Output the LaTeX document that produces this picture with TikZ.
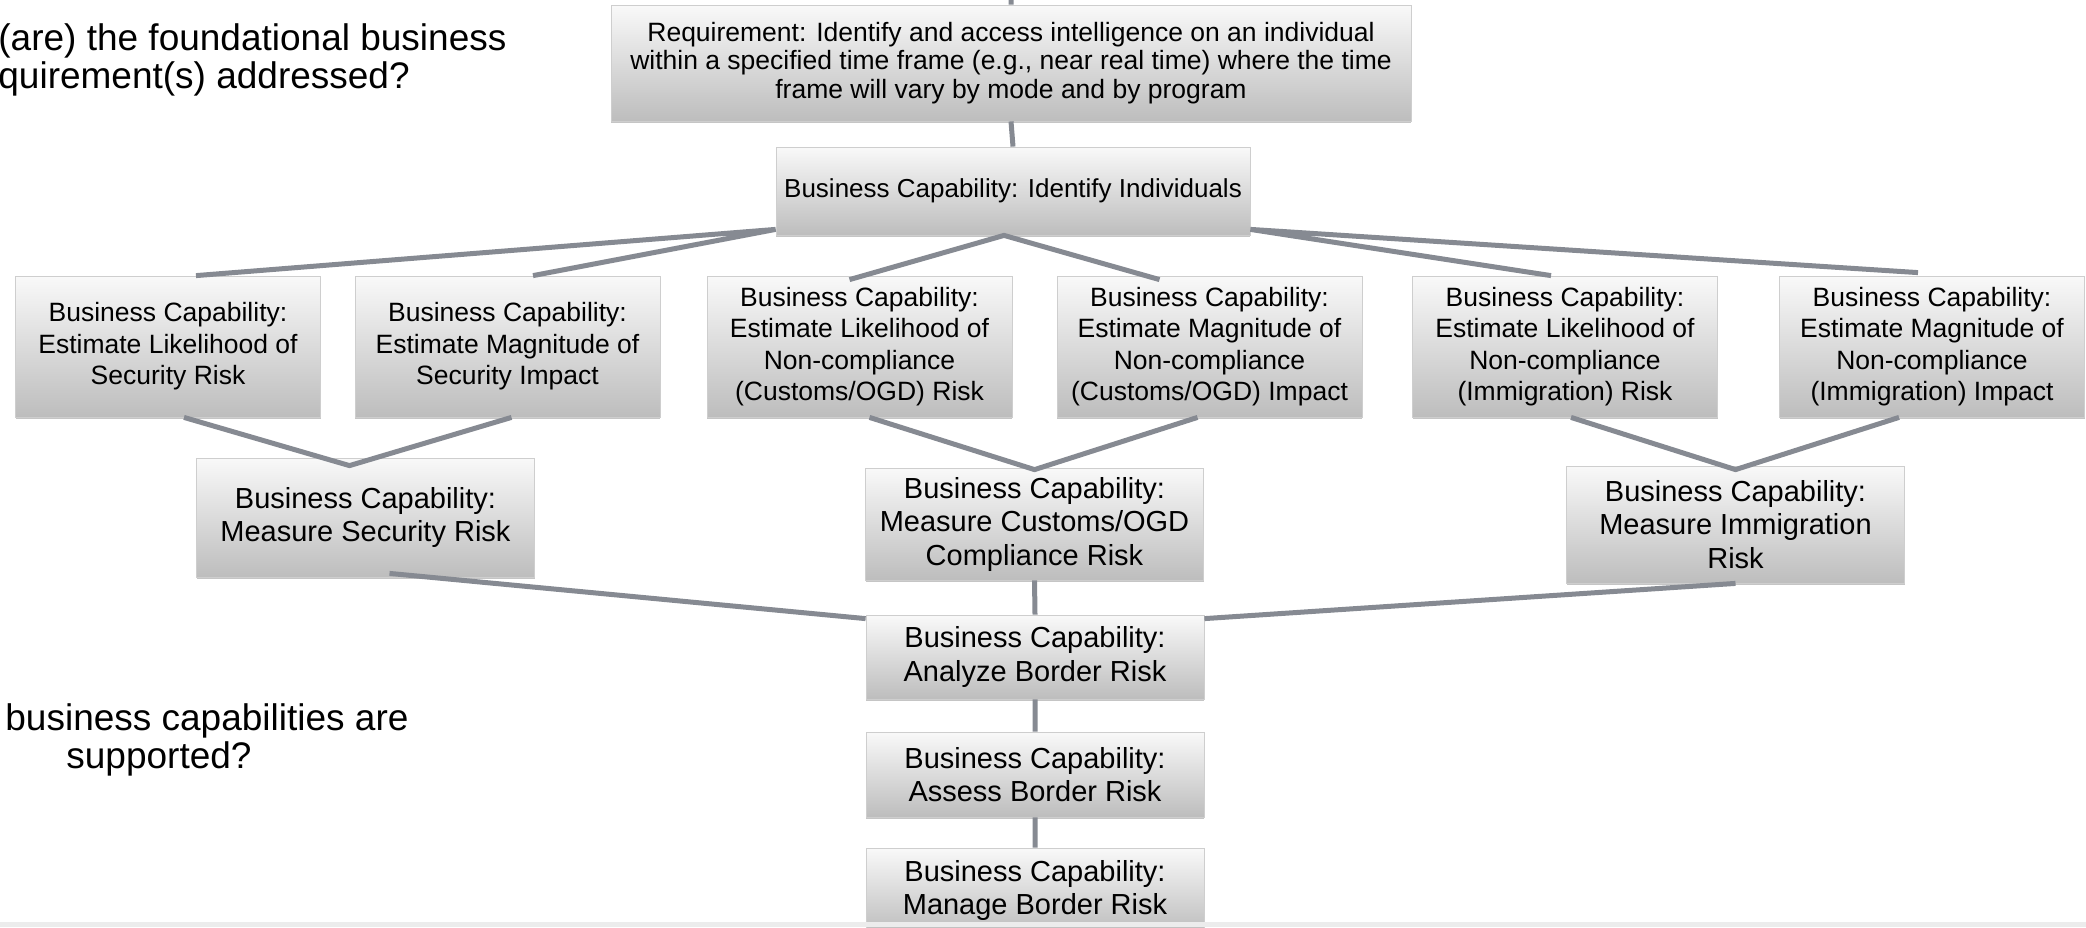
\documentclass[tikz,border=0pt]{standalone}
\usepackage{fontspec}
\setmainfont{Liberation Sans}
\usetikzlibrary{shadows}
\definecolor{boxtop}{RGB}{249,249,249}
\definecolor{boxbottom}{RGB}{189,189,189}
\definecolor{boxedge}{RGB}{206,206,206}
\definecolor{linkgray}{RGB}{134,138,146}
\definecolor{stripgray}{RGB}{236,236,236}
\begin{document}
\begin{tikzpicture}[x=0.5pt, y=-0.5pt,
    capbox/.style={draw=boxedge, line width=0.4pt, top color=boxtop,
      bottom color=boxbottom, inner sep=0pt, align=center,
      drop shadow={shadow xshift=0pt, shadow yshift=-1.2pt, fill=black!45},
      minimum width=152.5pt, minimum height=70.5pt,
      font=\fontsize{13.25pt}{15.75pt}\selectfont},
    bigbox/.style={capbox, minimum width=169pt,
      font=\fontsize{14.5pt}{16.75pt}\selectfont},
    linkline/.style={draw=linkgray, line width=2.5pt},
    question/.style={align=left, inner sep=0pt, anchor=north west,
      font=\fontsize{18.5pt}{19pt}\selectfont}]
  \useasboundingbox (0,0) rectangle (2086,927);
  %questions on the left
  \node[question] (qreq) at (-2,23) {(are) the foundational business\\quirement(s) addressed?};
  \node[question] (qcap) at (5,703) {business capabilities are\\\hspace*{30.5pt}supported?};
  %requirement and first capability
  \coordinate (top) at (1011,0);
  \node[capbox, minimum width=400pt, minimum height=58pt,
        font=\fontsize{13.25pt}{14.25pt}\selectfont] (req) at (1011,63)
        {Requirement: Identify and access intelligence on an individual\\within a specified time frame (e.g., near real time) where the time\\frame will vary by mode and by program};
  \node[capbox, minimum width=237pt, minimum height=44pt,
        font=\fontsize{13pt}{15pt}\selectfont] (ident) at (1013,191)
        {Business Capability: Identify Individuals};
  %estimates
  \node[capbox] (secl) at (168,346.5) {Business Capability:\\Estimate Likelihood of\\Security Risk};
  \node[capbox] (secm) at (507.5,346.5) {Business Capability:\\Estimate Magnitude of\\Security Impact};
  \node[capbox] (cusl) at (859.5,346.5) {Business Capability:\\Estimate Likelihood of\\Non-compliance\\(Customs/OGD) Risk};
  \node[capbox] (cusm) at (1209.5,346.5) {Business Capability:\\Estimate Magnitude of\\Non-compliance\\(Customs/OGD) Impact};
  \node[capbox] (imml) at (1565,346.5) {Business Capability:\\Estimate Likelihood of\\Non-compliance\\(Immigration) Risk};
  \node[capbox] (immm) at (1932,346.5) {Business Capability:\\Estimate Magnitude of\\Non-compliance\\(Immigration) Impact};
  %measures
  \node[bigbox, minimum height=59.5pt] (secr) at (365.5,517.5) {Business Capability:\\Measure Security Risk};
  \node[bigbox, minimum height=56pt] (cusr) at (1034.5,524) {Business Capability:\\Measure Customs/OGD\\Compliance Risk};
  \node[bigbox, minimum height=58.5pt] (immr) at (1735.5,524.5) {Business Capability:\\Measure Immigration\\Risk};
  %border risk chain
  \node[bigbox, minimum height=42pt] (anal) at (1035,657) {Business Capability:\\Analyze Border Risk};
  \node[bigbox, minimum height=42.5pt] (asse) at (1035,774.5) {Business Capability:\\Assess Border Risk};
  \node[bigbox, minimum height=42.5pt] (mana) at (1035,890.5) {Business Capability:\\Manage Border Risk};
  %meeting points
  \coordinate (secv) at ([xshift=-8pt,yshift=-4pt]secr.north);
  \coordinate (cusv) at ([yshift=-1pt]cusr.north);
  \coordinate (immv) at ([yshift=-2pt]immr.north);
  %connectors from the top
  \draw[linkline] (top) -- (req.north)
        (req.south) -- (ident.north)
        ([xshift=14pt]secl.north) -- ([yshift=3pt]ident.south west)
          -- ([xshift=12.75pt]secm.north)
        ([xshift=-5pt,yshift=-2pt]cusl.north) -- ([xshift=-4.5pt]ident.south)
          -- ([xshift=-25pt,yshift=-2pt]cusm.north)
        ([xshift=-7pt]imml.north) -- ([yshift=3pt]ident.south east)
          -- ([xshift=-7pt,yshift=1.5pt]immm.north);
  %estimates to measures
  \draw[linkline] ([xshift=8pt]secl.south) -- (secv) -- ([xshift=2pt]secm.south)
        ([xshift=5pt]cusl.south) -- (cusv) -- ([xshift=-6pt]cusm.south)
        ([xshift=3pt]imml.south) -- (immv) -- ([xshift=-16.5pt]immm.south);
  %measures to border risk
  \draw[linkline] ([xshift=12pt,yshift=2pt]secr.south) -- ([yshift=-2pt]anal.north west)
        (immr.south) -- ([yshift=-2pt]anal.north east)
        (cusr.south) -- (anal.north)
        (anal.south) -- (asse.north)
        (asse.south) -- (mana.north);
  \fill[stripgray] (0,922) rectangle (2086,927);
\end{tikzpicture}
\end{document}
